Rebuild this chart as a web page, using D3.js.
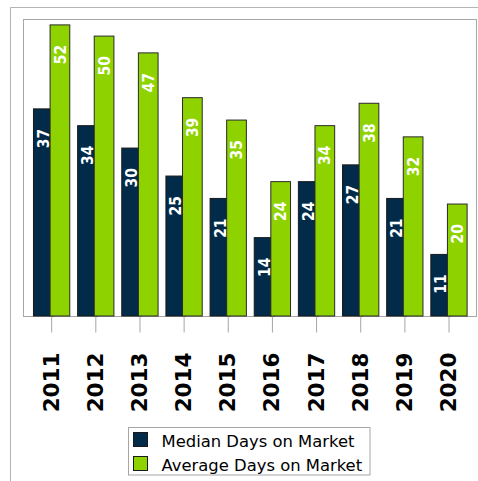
<!DOCTYPE html>
<html>
<head>
<meta charset="utf-8">
<script src="https://cdn.jsdelivr.net/npm/d3@7"></script>
<style>
  body { margin: 0; background: #fff; }
  svg { display: block; }
</style>
</head>
<body>
<div id="chart"></div>
<script>
// data
var years = ["2011", "2012", "2013", "2014", "2015", "2016", "2017", "2018", "2019", "2020"];
var medianDays = [37, 34, 30, 25, 21, 14, 24, 27, 21, 11];
var averageDays = [52, 50, 47, 39, 35, 24, 34, 38, 32, 20];
var seriesNames = ["Median Days on Market", "Average Days on Market"];
var seriesColors = ["#012b48", "#8ed300"];

var svgWidth = 478;
var svgHeight = 481;

var svg = d3.select("#chart")
  .append("svg")
  .attr("width", svgWidth)
  .attr("height", svgHeight);

// outer frame (only top and left visible)
svg.append("line")
  .attr("x1", 10.5).attr("y1", 7.5).attr("x2", svgWidth).attr("y2", 7.5)
  .attr("stroke", "#b4b4b4");
svg.append("line")
  .attr("x1", 10.5).attr("y1", 7.5).attr("x2", 10.5).attr("y2", svgHeight)
  .attr("stroke", "#b4b4b4");

// plot area
var plot = { left: 23.5, top: 19.5, right: 476.5, bottom: 316.5 };

var x = d3.scaleBand()
  .domain(years)
  .range([29.6, 471.1])
  .padding(0);

var y = d3.scaleLinear()
  .domain([0, 53])
  .range([316, 19.3]);

svg.append("rect")
  .attr("x", plot.left)
  .attr("y", plot.top)
  .attr("width", plot.right - plot.left)
  .attr("height", plot.bottom - plot.top)
  .attr("fill", "none")
  .attr("stroke", "#a6a6a6");

var cx = function(d) { return x(d) + x.bandwidth() / 2; };
var barW = 19.7;

var rows = years.map(function(yr, i) {
  return { year: yr, median: medianDays[i], average: averageDays[i] };
});

// median bars
svg.selectAll(".median")
  .data(rows)
  .enter()
  .append("rect")
  .attr("class", "median")
  .attr("x", d => cx(d.year) - 18.2)
  .attr("y", d => y(d.median))
  .attr("width", barW)
  .attr("height", d => y(0) - y(d.median))
  .attr("fill", seriesColors[0])
  .attr("stroke", "#1a1a1a")
  .attr("stroke-width", 1);

// average bars
svg.selectAll(".average")
  .data(rows)
  .enter()
  .append("rect")
  .attr("class", "average")
  .attr("x", d => cx(d.year) - 1.6)
  .attr("y", d => y(d.average))
  .attr("width", barW)
  .attr("height", d => y(0) - y(d.average))
  .attr("fill", seriesColors[1])
  .attr("stroke", "#2a2a2a")
  .attr("stroke-width", 1);

// value labels, rotated inside the top of each bar
function addLabels(key, dx) {
  svg.selectAll(".lbl-" + key)
    .data(rows)
    .enter()
    .append("text")
    .attr("class", "lbl-" + key)
    .attr("transform", d => `translate(${cx(d.year) + dx + 5.6},${y(d[key]) + 20})rotate(-90)`)
    .attr("text-anchor", "end")
    .attr("fill", "#fff")
    .attr("font-family", "'DejaVu Sans Condensed', 'DejaVu Sans', sans-serif")
    .attr("font-weight", "bold")
    .attr("font-size", "15.5px")
    .text(d => d[key]);
}
addLabels("median", -8.35);
addLabels("average", 8.25);

// x axis ticks
var xAxis = d3.axisBottom(x).tickSize(16).tickFormat("");
var axisG = svg.append("g")
  .attr("transform", `translate(0,${plot.bottom})`)
  .call(xAxis);
axisG.select(".domain").remove();
axisG.selectAll(".tick line").attr("stroke", "#a6a6a6");

// year labels
svg.selectAll(".year")
  .data(years)
  .enter()
  .append("text")
  .attr("class", "year")
  .attr("transform", d => `translate(${cx(d) + 7},352.5)rotate(-90)`)
  .attr("text-anchor", "end")
  .attr("fill", "#000")
  .attr("font-family", "'DejaVu Sans', sans-serif")
  .attr("font-weight", "bold")
  .attr("font-size", "21.5px")
  .text(d => d);

// legend
var legend = svg.append("g");
legend.append("rect")
  .attr("x", 128.5).attr("y", 427.5)
  .attr("width", 241.5).attr("height", 47.5)
  .attr("fill", "#fff")
  .attr("stroke", "#a6a6a6");

seriesNames.forEach(function(name, i) {
  legend.append("rect")
    .attr("x", 133.5)
    .attr("y", 432.5 + i * 24)
    .attr("width", 14)
    .attr("height", 14)
    .attr("fill", seriesColors[i])
    .attr("stroke", "#1a1a1a");
  legend.append("text")
    .attr("x", 161.5)
    .attr("y", 446.5 + i * 24)
    .attr("font-family", "'DejaVu Sans', sans-serif")
    .attr("font-size", "16.4px")
    .attr("fill", "#000")
    .text(name);
});
</script>
</body>
</html>
